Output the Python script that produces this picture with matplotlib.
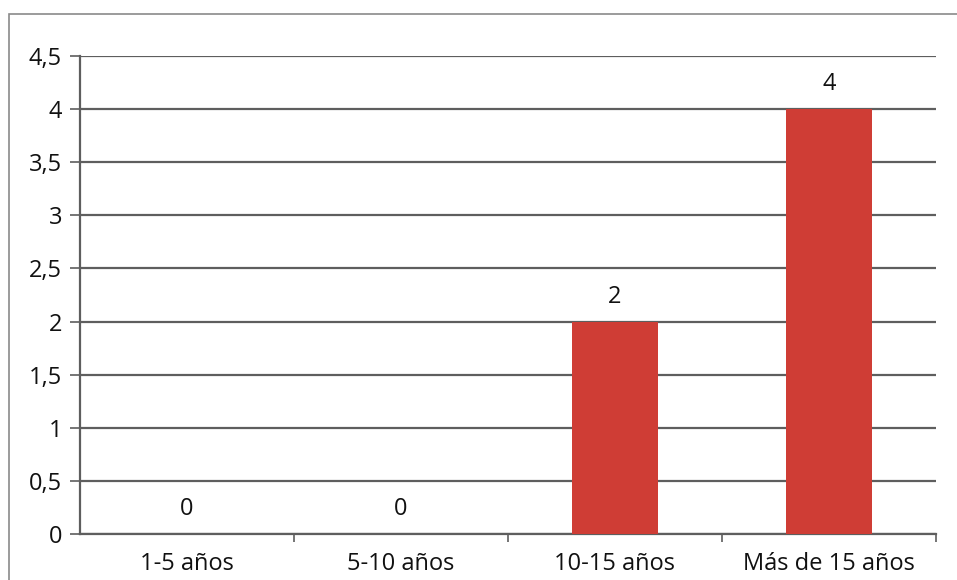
import matplotlib.pyplot as plt
from matplotlib.patches import Rectangle

categories = ['1-5 años', '5-10 años', '10-15 años', 'Más de 15 años']
values = [0, 0, 2, 4]
yticks = [0, 0.5, 1, 1.5, 2, 2.5, 3, 3.5, 4, 4.5]
ytick_labels = ['0', '0,5', '1', '1,5', '2', '2,5', '3', '3,5', '4', '4,5']

plt.rcParams['font.family'] = ['Open Sans', 'DejaVu Sans']

W, H = 957, 580
fig = plt.figure(figsize=(W / 100, H / 100), dpi=100)
ax = fig.add_axes([80 / W, 1 - 534 / H, (936 - 80) / W, (534 - 56) / H])

# outer chart frame (runs off the right/bottom edge like the scan)
fig.patches.append(Rectangle((9 / W, -0.05), 1.2, 1 - 14 / H + 0.05,
                             transform=fig.transFigure, fill=False,
                             edgecolor='#8a8a8a', linewidth=1.2))

x = range(len(categories))
bars = ax.bar(x, values, width=0.4, color='#cf3d35', zorder=3)
for xi, v in zip(x, values):
    ax.text(xi, v + 0.12, str(v), ha='center', va='bottom', fontsize=17, color='#111111')

ax.set_xlim(-0.5, len(categories) - 0.5)
ax.set_ylim(0, 4.5)
ax.set_yticks(yticks)
ax.set_yticklabels(ytick_labels)
ax.yaxis.grid(True, color='#5e5e5e', linewidth=1.6, zorder=0)
ax.set_axisbelow(True)

ax.set_xticks([i + 0.5 for i in range(len(categories))])
ax.set_xticklabels([])
ax.set_xticks(list(x), minor=True)
ax.set_xticklabels(categories, minor=True)
ax.tick_params(axis='x', which='major', length=6, width=1.2, color='#5e5e5e', direction='out')
ax.tick_params(axis='x', which='minor', length=0, pad=13, labelsize=17, labelcolor='#111111')
ax.tick_params(axis='y', length=7, width=1.2, color='#5e5e5e', labelsize=17, labelcolor='#111111', pad=6)

for s in ['top', 'right']:
    ax.spines[s].set_visible(False)
for s in ['left', 'bottom']:
    ax.spines[s].set_color('#5e5e5e')
    ax.spines[s].set_linewidth(1.6)

fig.savefig('out.png', dpi=100)
